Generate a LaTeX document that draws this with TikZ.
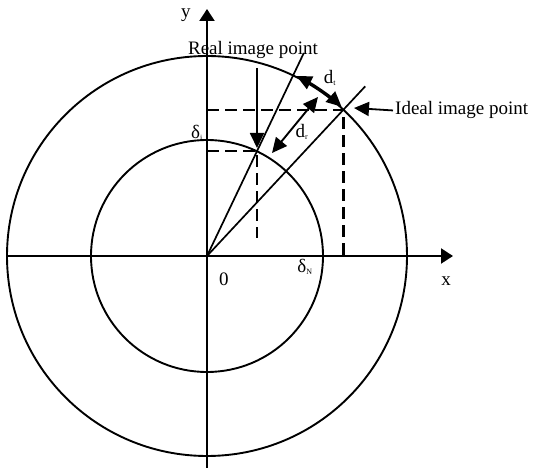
\documentclass[tikz,border=0pt]{standalone}
\usepackage{fontspec}
\setmainfont{Liberation Serif}
\usetikzlibrary{arrows.meta,calc}
\begin{document}
\begin{tikzpicture}[x=1pt,y=1pt,
  lbl/.style={font=\fontsize{19}{21}\selectfont, inner sep=0pt},
  axis/.style={line width=2.2pt, -{Triangle[length=12pt,width=15pt]}},
  circ/.style={line width=1.9pt},
  ray/.style={line width=1.7pt},
  dsh/.style={line width=2.3pt, dash pattern=on 12pt off 6pt},
  pointer/.style={line width=1.8pt, -{Triangle[length=15pt,width=14pt]}},
  dbl/.style={line width=1.9pt, {Triangle[length=15pt,width=14pt]}-{Triangle[length=15pt,width=14pt]}}]
\useasboundingbox[fill=white] (-207,-212) rectangle (326,256);
\coordinate (O) at (0,0);
% circles
\draw[circ] (O) circle[radius=200];
\draw[circ] (O) circle[radius=116];
% axes
\coordinate (xs) at (-199,0);
\coordinate (xe) at (246,0);
\coordinate (ys) at (0,-212);
\coordinate (ye) at (0,247);
\draw[axis] (xs) -- (xe);
\draw[axis] (ys) -- (ye);
% points
\coordinate (R) at (64.5:116);
\coordinate (I) at (47:200);
\coordinate (Rend) at (64.5:225);
\coordinate (Iend) at (47:232);
\draw[ray] (O) -- (Rend);
\draw[ray] (O) -- (Iend);
% dashed projections
\coordinate (Ry) at (0,0 |- R);
\coordinate (Rd) at ($(R |- O)+(0,18)$);
\coordinate (Iy) at (0,0 |- I);
\coordinate (Ix) at (I |- O);
\draw[dsh] (Ry) -- (R) -- (Rd);
\draw[dsh] (Iy) -- (I) -- (Ix);
% d_t arc
\draw[dbl] (63.5:201) arc[start angle=63.5, end angle=48, radius=201];
% d_r
\coordinate (dr1) at (111,159);
\coordinate (dr2) at (65,103);
\draw[dbl] (dr1) -- (dr2);
% pointers
\node[lbl, anchor=base] (real) at (46,201) {Real image point};
\coordinate (rs) at (50,188);
\coordinate (rt) at (50,108);
\draw[pointer] (rs) -- (rt);
\node[lbl, anchor=base west] (ideal) at (188,141) {Ideal image point};
\coordinate (it) at (147,148);
\draw[pointer] (ideal.west) ++(-2,0) coordinate (is) (is) -- (it);
% labels
\node[lbl] (ylab) at (-21,241) {y};
\node[lbl] (xlab) at (239,-25) {x};
\node[lbl] (zero) at (17,-23) {0};
\node[lbl] (dN) at (98,-11) {δ\textsubscript{\fontsize{8}{9}\selectfont N}};
\node[lbl] (di) at (-10,123) {δ\textsubscript{\fontsize{8}{9}\selectfont i}};
\node[lbl] (dt) at (123,178) {d\textsubscript{\fontsize{8}{9}\selectfont t}};
\node[lbl] (drl) at (95,124) {d\textsubscript{\fontsize{8}{9}\selectfont r}};
\end{tikzpicture}
\end{document}
